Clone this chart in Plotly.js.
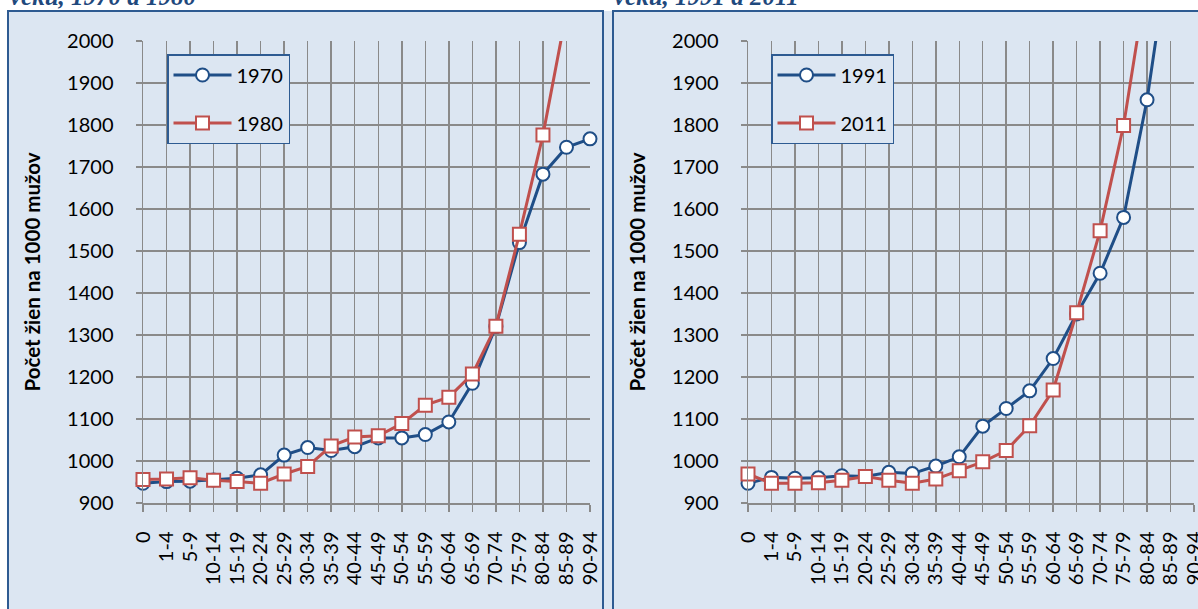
<!DOCTYPE html>
<html><head><meta charset="utf-8">
<script src="https://cdn.plot.ly/plotly-3.0.1.min.js"></script>
<style>html,body{margin:0;padding:0;background:#fff}#chart{width:1198px;height:609px}</style>
</head><body><div id="chart"></div>
<script>
// Age groups (x categories)
const ageGroups = ['0','1-4','5-9','10-14','15-19','20-24','25-29','30-34','35-39','40-44','45-49','50-54','55-59','60-64','65-69','70-74','75-79','80-84','85-89','90-94'];
// Women per 1000 men
const ratio1970 = [947, 951, 952, 955, 959, 967, 1014, 1032, 1025, 1034, 1055, 1055, 1063, 1093, 1185, 1320, 1520, 1683, 1747, 1767];
const ratio1980 = [956, 957, 960, 954, 951, 947, 969, 987, 1036, 1057, 1060, 1089, 1133, 1152, 1207, 1321, 1540, 1776, 2070, null];
const ratio1991 = [947, 961, 959, 960, 965, 963, 973, 970, 988, 1010, 1083, 1125, 1167, 1244, 1350, 1447, 1580, 1860, 2240, null];
const ratio2011 = [969, 947, 947, 948, 954, 963, 954, 947, 957, 977, 998, 1025, 1084, 1169, 1353, 1548, 1799, 2150, null, null];
const yTicks = [900, 1000, 1100, 1200, 1300, 1400, 1500, 1600, 1700, 1800, 1900, 2000];
const titleLeft = 'veku, 1970 a 1980';
const titleRight = 'veku, 1991 a 2011';
const yTitle = 'Počet žien na 1000 mužov';

const W = 1198, H = 609;
const px = v => v / W;
const py = v => 1 - v / H;

const BLUE = '#1F4E87';
const RED = '#C0504D';
const GRID = '#8A8A8A';
const PANEL = '#DCE6F2';
const BORDER = '#2E5B92';

function series(y, name, color, symbol, xa, ya, group) {
  return {
    type: 'scatter', mode: 'lines+markers', x: ageGroups, y: y, name: name,
    xaxis: xa, yaxis: ya, legend: group, cliponaxis: false, connectgaps: false,
    line: {color: color, width: 3},
    marker: {symbol: symbol, size: 13, color: '#FFFFFF', line: {color: color, width: 2}},
    legendgroup: name
  };
}

const data = [
  series(ratio1970, '1970', BLUE, 'circle', 'x', 'y', 'legend'),
  series(ratio1980, '1980', RED, 'square', 'x', 'y', 'legend'),
  series(ratio1991, '1991', BLUE, 'circle', 'x2', 'y2', 'legend2'),
  series(ratio2011, '2011', RED, 'square', 'x2', 'y2', 'legend2')
];

const xBase = {
  type: 'category', range: [0, 19], tickmode: 'array', tickvals: ageGroups, ticktext: ageGroups,
  showgrid: true, gridcolor: GRID, gridwidth: 1.5,
  showline: true, linecolor: GRID, linewidth: 1.5, ticks: 'outside', ticklen: 7, tickcolor: GRID, tickwidth: 1.5,
  tickangle: -90, tickfont: {size: 20, color: '#000'}, ticklabelstandoff: 12, zeroline: false, fixedrange: true
};
const yBase = {
  range: [900, 2000], tickvals: yTicks, showgrid: true, gridcolor: GRID, gridwidth: 1.5,
  showline: true, linecolor: GRID, linewidth: 1.5, ticks: 'outside', ticklen: 6, tickcolor: GRID, tickwidth: 1.5,
  tickfont: {size: 20, color: '#000'}, ticklabelstandoff: 18, zeroline: false, fixedrange: true,
  title: {text: yTitle, font: {size: 20.5, color: '#000', family: 'Lato', weight: 'bold'}, standoff: 21}
};

const legendBase = {
  bgcolor: PANEL, bordercolor: BORDER, borderwidth: 1.5, font: {size: 20, color: '#000'},
  xanchor: 'left', yanchor: 'top', tracegroupgap: 19, itemwidth: 58, traceorder: 'grouped'
};

const layout = {
  width: W, height: H, margin: {l: 0, r: 0, t: 0, b: 0},
  paper_bgcolor: '#FFFFFF', plot_bgcolor: '#FFFFFF',
  font: {family: 'Lato', color: '#000'},
  showlegend: true,
  xaxis: Object.assign({}, xBase, {domain: [px(143), px(590)], anchor: 'y'}),
  yaxis: Object.assign({}, yBase, {domain: [py(503), py(41)], anchor: 'x'}),
  xaxis2: Object.assign({}, xBase, {domain: [px(748), px(1194)], anchor: 'y2'}),
  yaxis2: Object.assign({}, yBase, {domain: [py(503), py(41)], anchor: 'x2'}),
  legend: Object.assign({}, legendBase, {x: px(167), y: py(54)}),
  legend2: Object.assign({}, legendBase, {x: px(771), y: py(54)}),
  shapes: [
    {type: 'rect', xref: 'paper', yref: 'paper', x0: px(8), x1: px(1210), y0: py(630), y1: py(11), fillcolor: PANEL, line: {width: 0}, layer: 'below'},
    {type: 'rect', xref: 'paper', yref: 'paper', x0: px(8), x1: px(603), y0: py(630), y1: py(11), fillcolor: 'rgba(0,0,0,0)', line: {color: BORDER, width: 2}, layer: 'below'},
    {type: 'rect', xref: 'paper', yref: 'paper', x0: px(613), x1: px(1210), y0: py(630), y1: py(11), fillcolor: 'rgba(0,0,0,0)', line: {color: BORDER, width: 2}, layer: 'below'}
  ],
  annotations: [
    {xref: 'paper', yref: 'paper', x: px(8), y: py(12), xanchor: 'left', yanchor: 'bottom', showarrow: false, text: '<b><i>' + titleLeft + '</i></b>', font: {family: 'Liberation Serif', size: 25, color: '#1F497D'}},
    {xref: 'paper', yref: 'paper', x: px(612), y: py(12), xanchor: 'left', yanchor: 'bottom', showarrow: false, text: '<b><i>' + titleRight + '</i></b>', font: {family: 'Liberation Serif', size: 25, color: '#1F497D'}}
  ]
};

Plotly.newPlot('chart', data, layout, {displayModeBar: false, staticPlot: true});
</script>
</body></html>
